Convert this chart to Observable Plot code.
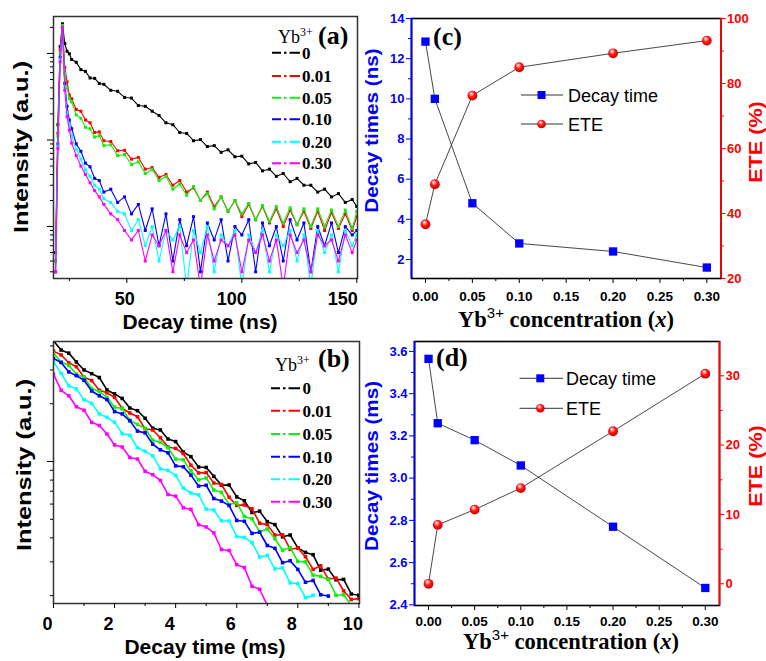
<!DOCTYPE html>
<html><head><meta charset="utf-8">
<script src="https://cdn.jsdelivr.net/npm/d3@7"></script>
<script src="https://cdn.jsdelivr.net/npm/@observablehq/plot@0.6"></script>
<style>
html,body{margin:0;padding:0;background:#fff;}
#root{position:relative;width:766px;height:661px;overflow:hidden;background:#fff;}
#root svg{position:absolute;left:0;top:0;}
</style></head><body><div id="root"></div>
<script>
// ---------------- DATA ----------------
const seriesNames = ["0","0.01","0.05","0.10","0.20","0.30"];
const seriesColors = ["#000000","#ff0000","#11ee11","#0000ff","#00ffff","#ff00ff"];

// (a) decay curves, time in ns
const timeA = [19,20,21,22,23,24,25,26,28,30,32,34,36,38,40,43,46,49,52,55,58,61,64,67,70,73,76,79,82,85,88,91,94,97,100,103,106,109,112,115,118,121,124,127,130,133,136,139,142,145,148,150];
const a_0   = [5,150,1200,2200,1300,1060,990,850,790,650,620,520,515,450,440,375,365,310,305,250,245,215,192,158,150,122,119,98,101,84,86,72,77,64,65,53,55,44,46,38,41,33,36,30,30,25,27,22,24,19,20.5,17];
const a_001 = [4,120,1100,2100,690,470,330,300,225,215,170,158,122,124,98,96,75,76,60,63,46,48,37,40,30,34,25,28,20,25,17,22,15,20,13,18,12,17,11,16,10,15.5,10.5,15,9.5,15,9,14.5,9.5,14,9,13];
const a_005 = [4,110,1000,2100,585,400,300,275,195,178,140,135,108,112,86,88,66,68,52,56,41,46,34,38,27,31,23,29,20,24,16,22,15,20,14,18.5,12,17.5,11.5,17,11,16.5,10.5,16,10,16,10,15.5,10,15.5,9.5,15];
const a_010 = [3,90,900,2000,450,245,170,135,90,74,54,49,36,34,25,27,19,22,14,18,9,16,6,14,4,12,6,13,3,11,7,12,4,10,8,12,3,11,6,10,4,12,7,11,3,10,6,11,5,10,8,9];
const a_020 = [3,85,850,2000,410,205,150,110,78,60,45,38,30,27,21,19,15,14,9,12,6,10,4,9,7,10,2,9,5,10,3,8,6,9,2,8,5,9,3,8,6,9,4,8,2,9,5,8,3,9,6,8];
const a_030 = [3,80,800,2000,375,185,130,92,66,50,40,32,26,22,18,14,12,9,7,9,4,8,6,9,3,8,5,7,2,8,4,7,6,8,3,7,5,8,4,7,2,8,5,7,3,8,6,7,4,8,5,7];

// (b) decay curves, time in ms
const timeB = [0,0.25,0.5,0.75,1,1.25,1.5,1.75,2,2.25,2.5,2.75,3,3.25,3.5,3.75,4,4.25,4.5,4.75,5,5.25,5.5,5.75,6,6.25,6.5,6.75,7,7.25,7.5,7.75,8,8.25,8.5,8.75,9,9.25,9.5,9.75,10];
const b_0   = [42.5,38.1,36.7,33.0,30.0,28.7,27.4,23.6,22.5,21.3,19.0,18.4,16.8,14.9,14.6,13.1,12.7,11.2,10.6,9.36,9.31,8.37,7.53,7.55,6.54,6.24,5.42,5.51,4.86,4.69,4.05,4.14,3.55,3.36,3.27,2.71,2.75,2.42,2.43,2.04,2.01];
const b_001 = [37.6,35.9,32.7,31.2,27.5,26.4,23.5,22.8,21.6,18.9,17.9,17.1,14.8,14.6,13.3,11.9,11.7,11.0,9.57,8.72,8.75,7.72,7.59,6.51,5.91,5.94,5.67,4.77,4.69,4.14,4.15,3.49,3.54,3.19,2.74,2.86,2.44,2.47,2.12,1.91,1.93];
const b_005 = [36.7,33.0,31.7,28.5,27.5,24.0,23.1,21.6,19.2,18.9,16.4,15.6,14.9,12.9,12.6,11.8,10.3,10.2,8.94,8.03,8.21,7.10,6.91,5.96,6.10,5.17,5.03,4.30,4.45,3.96,3.45,3.56,3.02,3.00,2.56,2.52,2.43,2.01,2.02,1.78];
const b_010 = [34.4,32.8,29.3,28.0,26.5,23.3,22.0,21.0,18.2,17.7,16.3,14.4,14.1,12.3,11.5,11.1,9.49,9.39,8.49,7.45,7.52,6.41,6.22,5.90,4.93,4.88,4.22,4.28,3.65,3.53,2.97,3.04,2.74,2.35,2.40,2.02,1.99];
const b_020 = [33.1,28.8,24.8,23.9,21.0,20.1,17.7,17.0,16.0,14.0,13.7,11.8,11.3,10.7,9.17,8.99,8.46,7.28,6.85,6.70,5.65,5.59,4.91,4.90,4.06,4.02,3.78,3.18,3.24,2.76,2.79,2.33,2.31,1.95,2.01];
const b_030 = [28.5,23.5,22.0,19.3,18.5,16.0,15.4,13.9,12.2,11.9,10.5,10.3,8.89,8.54,7.97,6.73,6.60,5.74,5.63,4.69,4.56,4.25,3.48,3.44,2.90,2.80,2.24,2.16,1.78];

// (c),(d) concentration dependence
const concX  = [0, 0.01, 0.05, 0.10, 0.20, 0.30];
const decayC = [12.85, 10.0, 4.8, 2.8, 2.4, 1.6];
const eteC   = [36.7, 49.0, 76.3, 85.0, 89.3, 93.2];
const decayD = [3.565, 3.26, 3.18, 3.06, 2.77, 2.48];
const eteD   = [0, 8.5, 10.7, 13.8, 22.0, 30.3];

// tick values
const aXTicks = [50,100,150], aXMinor = [25,75,125];
const aYTicks = [10,100,1000], aYMinor = [3,4,5,6,7,8,9,20,30,40,50,60,70,80,90,200,300,400,500,600,700,800,900,2000];
const bXTicks = [0,2,4,6,8,10], bXMinor = [1,3,5,7,9];
const bYTicks = [10], bYMinor = [2,3,4,5,6,7,8,9,20,30,40];
const concTicks = [0,0.05,0.10,0.15,0.20,0.25,0.30], concMinor = [0.025,0.075,0.125,0.175,0.225,0.275];
const cYTicks = [2,4,6,8,10,12,14], cYMinor = [3,5,7,9,11,13];
const cY2Ticks = [20,40,60,80,100], cY2Minor = [30,50,70,90];
const dYTicks = [2.4,2.6,2.8,3.0,3.2,3.4,3.6], dYMinor = [2.5,2.7,2.9,3.1,3.3,3.5];
const dY2Ticks = [0,10,20,30], dY2Minor = [5,15,25];

// ---------------- LAYOUT ----------------
const W = 766, H = 661;
const SANS = "'Liberation Sans', Arial, sans-serif";
const SERIF = "'Liberation Serif', 'Times New Roman', serif";
const BLUE = "#0000ff", RED = "#ff0000";
const root = document.getElementById("root");
const noText = () => "";

function basePlot(opts) {
  return Plot.plot(Object.assign({
    width: W, height: H,
    style: {background: "transparent", overflow: "visible", maxWidth: "none", fontFamily: SANS}
  }, opts));
}
function curveMarks(times, series, r, sw) {
  const m = [];
  series.forEach((vals, i) => {
    const rows = vals.map((v, j) => ({t: times[j], v}));
    m.push(Plot.line(rows, {x: "t", y: "v", stroke: seriesColors[i], strokeWidth: sw, clip: true}));
    m.push(Plot.dot(rows, {x: "t", y: "v", fill: seriesColors[i], symbol: "square", r, clip: true}));
  });
  return m;
}
const aLabel = (v, dx) => Plot.axisX([v], {tickSize: 0, tickPadding: 14, dx, fontSize: 18, fontWeight: "bold", label: null});

// (a)
root.appendChild(basePlot({
  marginLeft: 53, marginRight: 409, marginTop: 16, marginBottom: 383,
  x: {domain: [18.1, 150.3], label: null},
  y: {type: "log", domain: [2.51, 2670], label: null},
  marks: [
    ...curveMarks(timeA, [a_0, a_001, a_005, a_010, a_020, a_030], 1.7, 1.1),
    Plot.frame({stroke: "#333", strokeWidth: 1.5}),
    Plot.axisX(aXTicks, {tickSize: 5, tickFormat: noText, label: null}),
    aLabel(aXTicks[0], -2), aLabel(aXTicks[1], -10), aLabel(aXTicks[2], -14),
    Plot.axisX(aXMinor, {tickSize: 3, tickFormat: noText, label: null}),
    Plot.axisY(aYTicks, {tickSize: 6, tickFormat: noText, label: null}),
    Plot.axisY(aYMinor, {tickSize: 3, tickFormat: noText, label: null})
  ]
}));

// (b)
root.appendChild(basePlot({
  marginLeft: 53, marginRight: 407, marginTop: 341, marginBottom: 58,
  x: {domain: [0, 10.02], label: null},
  y: {type: "log", domain: [1.82, 42.2], label: null},
  marks: [
    ...curveMarks(timeB, [b_0, b_001, b_005, b_010, b_020, b_030], 2.0, 1.6),
    Plot.frame({stroke: "#333", strokeWidth: 1.5}),
    Plot.axisX(bXTicks, {tickSize: 5, tickFormat: noText, label: null}),
    Plot.axisX(bXTicks, {tickSize: 0, tickPadding: 14, dx: -6, fontSize: 18, fontWeight: "bold", label: null}),
    Plot.axisX(bXMinor, {tickSize: 3, tickFormat: noText, label: null}),
    Plot.axisY(bYTicks, {tickSize: 6, tickFormat: noText, label: null}),
    Plot.axisY(bYMinor, {tickSize: 3, tickFormat: noText, label: null})
  ]
}));

// (c) and (d): dual-axis panels built as two overlaid plots
function dualPanel(m, xDom, yDom, y2Dom, decay, ete, yT, yM, y2T, y2M, yFmt, xPad) {
  const rows = concX.map((x, i) => ({x, decay: decay[i], ete: ete[i]}));
  root.appendChild(basePlot({
    ...m,
    x: {domain: xDom, label: null},
    y: {domain: yDom, label: null},
    marks: [
      Plot.line(rows, {x: "x", y: "decay", stroke: "#333", strokeWidth: 0.9}),
      Plot.dot(rows, {x: "x", y: "decay", symbol: "square", fill: BLUE, r: 4.7}),
      Plot.frame({stroke: "#000", strokeWidth: 1.6}),
      Plot.ruleX([xDom[0]], {stroke: BLUE, strokeWidth: 1.8}),
      Plot.axisY(yT, {tickSize: 5, tickPadding: 2, color: BLUE, fontSize: 13, fontWeight: "bold", tickFormat: yFmt, label: null}),
      Plot.axisY(yM, {tickSize: 3, tickFormat: noText, color: BLUE, label: null}),
      Plot.axisX(concTicks, {tickSize: 5, tickPadding: xPad, fontSize: 13.5, fontWeight: "bold", tickFormat: d3.format(".2f"), label: null}),
      Plot.axisX(concMinor, {tickSize: 3, tickFormat: noText, label: null})
    ]
  }));
  root.appendChild(basePlot({
    ...m,
    x: {domain: xDom, axis: null, label: null},
    y: {domain: y2Dom, label: null},
    marks: [
      Plot.line(rows, {x: "x", y: "ete", stroke: "#333", strokeWidth: 0.9}),
      Plot.dot(rows, {x: "x", y: "ete", fill: "url(#ball)", r: 4.9}),
      Plot.ruleX([xDom[1]], {stroke: RED, strokeWidth: 1.8}),
      Plot.axisY(y2T, {anchor: "right", tickSize: 4, tickPadding: 2, color: RED, fontSize: 13, fontWeight: "bold", label: null}),
      Plot.axisY(y2M, {anchor: "right", tickSize: 2.5, tickFormat: noText, color: RED, label: null})
    ]
  }));
}
dualPanel({marginLeft: 411, marginRight: 45.5, marginTop: 18, marginBottom: 383},
  [-0.0149, 0.3151], [1.054, 14], [20, 100], decayC, eteC, cYTicks, cYMinor, cY2Ticks, cY2Minor, d3.format("d"), 8);
dualPanel({marginLeft: 414, marginRight: 47, marginTop: 341, marginBottom: 56},
  [-0.0152, 0.3154], [2.397, 3.647], [-3.13, 34.94], decayD, eteD, dYTicks, dYMinor, dY2Ticks, dY2Minor, d3.format(".1f"), 6);

// ---------------- ANNOTATIONS (titles, letters, legends) ----------------
const ann = d3.select(root).append("svg").attr("width", W).attr("height", H).style("overflow", "visible");
const grad = ann.append("defs").append("radialGradient").attr("id", "ball")
  .attr("cx", 0.45).attr("cy", 0.42).attr("r", 0.6).attr("fx", 0.38).attr("fy", 0.28);
[[0, "#ffffff"], [0.2, "#ffa0a0"], [0.5, "#ff1a1a"], [0.85, "#e60000"], [1, "#a30000"]]
  .forEach(([o, c]) => grad.append("stop").attr("offset", o).attr("stop-color", c));

function text(x, y, str, size, {weight = "normal", family = SANS, fill = "#000", anchor = "start"} = {}) {
  return ann.append("text").attr("x", x).attr("y", y).attr("font-size", size).attr("font-weight", weight)
    .attr("font-family", family).attr("fill", fill).attr("text-anchor", anchor).text(str);
}
function vtext(cx, cy, str, size, sx, fill) {
  ann.append("text").attr("transform", `translate(${cx},${cy}) rotate(-90) scale(${sx},1)`)
    .attr("text-anchor", "middle").attr("dy", "0.35em").attr("font-size", size).attr("font-weight", "bold")
    .attr("font-family", SANS).attr("fill", fill).text(str);
}
// axis titles
vtext(21, 147, "Intensity (a.u.)", 20, 1.27, "#000");
vtext(24, 465, "Intensity (a.u.)", 20, 1.27, "#000");
text(200, 329, "Decay time (ns)", 21, {weight: "bold", anchor: "middle"});
text(205, 654, "Decay time (ms)", 21, {weight: "bold", anchor: "middle"});
vtext(371.5, 130.5, "Decay times (ns)", 18, 1.15, BLUE);
vtext(372, 466, "Decay times (ms)", 18, 1.15, BLUE);
vtext(755.5, 142, "ETE (%)", 18, 1.2, RED);
vtext(755.5, 466, "ETE (%)", 18, 1.2, RED);
function concTitle(cx, base) {
  const t = ann.append("text").attr("x", cx).attr("y", base).attr("text-anchor", "middle")
    .attr("font-family", SERIF).attr("font-weight", "bold").attr("font-size", 22.5);
  t.append("tspan").text("Yb");
  t.append("tspan").attr("dy", -9).attr("font-size", 15).attr("font-family", SANS).attr("font-weight", "normal").text("3+");
  t.append("tspan").attr("dy", 9).text(" concentration (");
  t.append("tspan").attr("font-style", "italic").text("x");
  t.append("tspan").text(")");
}
concTitle(566, 326.5);
concTitle(571, 648.5);

// panel letters
[["(a)", 318, 44], ["(b)", 318, 367], ["(c)", 433, 45], ["(d)", 436, 366]]
  .forEach(([s, x, y]) => text(x, y, s, 26, {weight: "bold", family: SERIF}));

// curve legends
function curveLegend(titleX, titleY, rowYs, lx1, lx2, tx) {
  const t = ann.append("text").attr("x", titleX).attr("y", titleY).attr("font-family", SERIF).attr("font-size", 18);
  t.append("tspan").text("Yb");
  t.append("tspan").attr("dy", -7).attr("font-size", 12).text("3+");
  seriesNames.forEach((n, i) => {
    ann.append("line").attr("x1", lx1).attr("x2", lx2).attr("y1", rowYs[i]).attr("y2", rowYs[i])
      .attr("stroke", seriesColors[i]).attr("stroke-width", 2).attr("stroke-dasharray", "9,3,2.5,3,12");
    text(tx, rowYs[i] + 6, n, 17, {weight: "bold", family: SERIF});
  });
}
curveLegend(278, 43, [52.7, 76, 97.7, 119.3, 141.7, 163.3], 272, 300, 302);
curveLegend(275, 371, [388.3, 410.7, 434, 456.7, 479.3, 501.7], 271, 300, 302.5);

// dual legends
function dualLegend(x1, xm, x2, tx, y1, y2) {
  [y1, y2].forEach(y => ann.append("line").attr("x1", x1).attr("x2", x2).attr("y1", y).attr("y2", y)
    .attr("stroke", "#333").attr("stroke-width", 1));
  ann.append("rect").attr("x", xm - 4).attr("y", y1 - 4).attr("width", 8).attr("height", 8).attr("fill", BLUE);
  ann.append("circle").attr("cx", xm).attr("cy", y2).attr("r", 4.3).attr("fill", "url(#ball)");
  text(tx, y1 + 6.5, "Decay time", 18);
  text(tx, y2 + 6.5, "ETE", 18);
}
dualLegend(521, 541.5, 563, 568, 95, 124);
dualLegend(519.5, 540.3, 563, 566, 378.3, 408.3);
</script></body></html>
